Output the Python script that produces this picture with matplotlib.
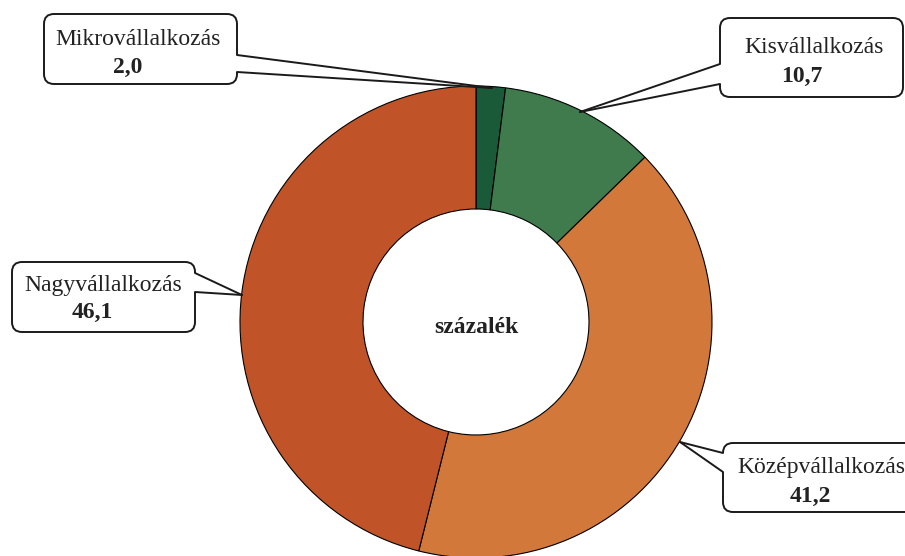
import matplotlib
matplotlib.use("Agg")
import matplotlib.pyplot as plt
from matplotlib.patches import FancyBboxPatch, Polygon

categories = ["Mikrovállalkozás", "Kisvállalkozás", "Középvállalkozás", "Nagyvállalkozás"]
values = [2.0, 10.7, 41.2, 46.1]
value_labels = ["2,0", "10,7", "41,2", "46,1"]
colors = ["#1b5a38", "#3f7b4c", "#d2783a", "#c05428"]
center_label = "százalék"

W, H = 905, 556
fig = plt.figure(figsize=(W / 100, H / 100), dpi=100)
ax = fig.add_axes([0, 0, 1, 1])
plt.rcParams['font.family'] = ['Liberation Serif', 'DejaVu Serif']

def Y(y):
    return H - y

cx, cy, R, r_in = 476, 322, 236, 113
ax.pie(values, colors=colors, startangle=90, counterclock=False,
       center=(cx, Y(cy)), radius=R,
       wedgeprops=dict(width=R - r_in, edgecolor="black", linewidth=0.8))
ax.set_xlim(0, W)
ax.set_ylim(0, H)
ax.set_aspect('auto')
ax.axis('off')

ax.text(cx, Y(333), center_label, ha='center', va='baseline', fontsize=17,
        fontweight='bold', family='Liberation Serif', color='#222222')

# callouts: box (x0, y0, x1, y1) in pixel coords from top, pointer p1, p2, tip,
# label baseline position, value baseline position
callouts = [
    dict(box=(44, 14, 237, 84), p1=(237, 55), p2=(237, 72), tip=(492, 88),
         lab=(138, 45), val=(128, 73), inward=(-6, 0)),
    dict(box=(720, 18, 903, 97), p1=(720, 64), p2=(720, 84), tip=(580, 112),
         lab=(814, 53), val=(802, 82), inward=(6, 0)),
    dict(box=(723, 443, 930, 512), p1=(723, 453), p2=(723, 472), tip=(680, 442),
         lab=(821, 473), val=(810, 502), inward=(6, 0)),
    dict(box=(12, 262, 195, 332), p1=(195, 273), p2=(195, 292), tip=(242, 295),
         lab=(103, 291), val=(92, 318), inward=(-6, 0)),
]

for c, cat, vl in zip(callouts, categories, value_labels):
    x0, y0, x1, y1 = c['box']
    box = FancyBboxPatch((x0, Y(y1)), x1 - x0, y1 - y0,
                         boxstyle="round,pad=0,rounding_size=10",
                         facecolor='white', edgecolor='#1a1a1a', linewidth=1.4,
                         zorder=3, clip_on=False)
    ax.add_patch(box)
    p1, p2, tip = c['p1'], c['p2'], c['tip']
    dx, dy = c['inward']
    poly = Polygon([(p1[0], Y(p1[1])), (tip[0], Y(tip[1])), (p2[0], Y(p2[1])),
                    (p2[0] + dx, Y(p2[1])), (p1[0] + dx, Y(p1[1]))],
                   closed=True, facecolor='white', edgecolor='none', zorder=4)
    ax.add_patch(poly)
    for p in (p1, p2):
        ax.plot([p[0], tip[0]], [Y(p[1]), Y(tip[1])], color='#1a1a1a',
                linewidth=1.4, zorder=5, solid_capstyle='round')
    ax.text(c['lab'][0], Y(c['lab'][1]), cat, ha='center', va='baseline',
            fontsize=17, color='#222222', zorder=6)
    ax.text(c['val'][0], Y(c['val'][1]), vl, ha='center', va='baseline',
            fontsize=17, fontweight='bold', color='#222222', zorder=6)

fig.savefig("out.png", dpi=100)
